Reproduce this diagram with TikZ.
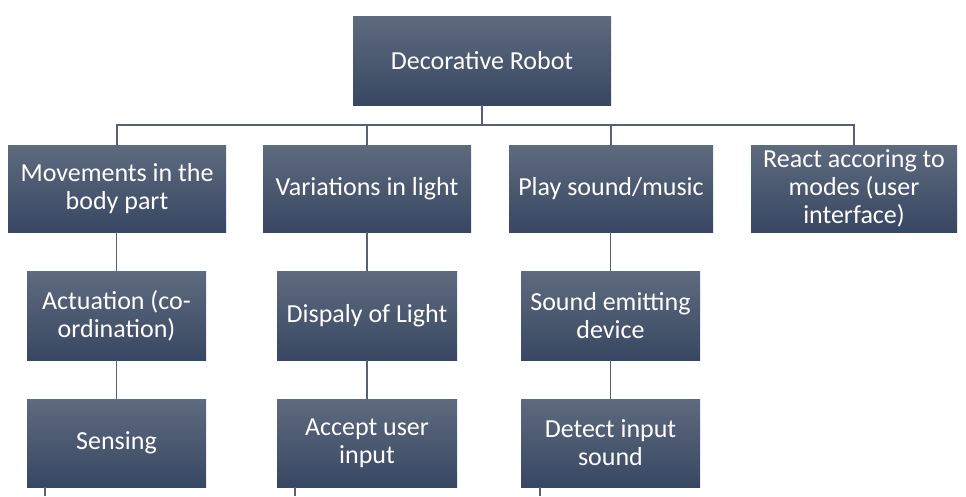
\documentclass[tikz,border=0pt]{standalone}
\usepackage{fontspec}
\setmainfont{Carlito}
\usetikzlibrary{calc}
\definecolor{boxtop}{RGB}{94,106,126}
\definecolor{boxbot}{RGB}{56,71,98}
\definecolor{linkcol}{RGB}{88,96,114}

\begin{document}
\begin{tikzpicture}[x=1pt, y=-1pt,
    box/.style={rectangle, inner sep=0pt, align=center, text=white, top color=boxtop, bottom color=boxbot,
      font=\fontsize{26}{28}\selectfont},
    link/.style={draw=linkcol, line width=1.2pt}]
      \useasboundingbox (0,0) rectangle (966,496);

      % top
      \node[box, minimum width=258pt, minimum height=89pt] (robot) at (482,60.5) {Decorative Robot};

      % first row
      \node[box, minimum width=218pt, minimum height=87pt] (move) at (117,188.5) {Movements in the\\body part};
      \node[box, minimum width=208pt, minimum height=87pt] (light) at (367,188.5) {Variations in light};
      \node[box, minimum width=204pt, minimum height=87pt] (sound) at (611,188.5) {Play sound/music};
      \node[box, minimum width=206pt, minimum height=87pt] (react) at (854,188.5) {React accoring to\\modes (user\\interface)};

      % second row
      \node[box, minimum width=179pt, minimum height=89pt] (actuate) at (116.5,315.5) {Actuation (co-\\ordination)};
      \node[box, minimum width=180pt, minimum height=89pt] (display) at (367,315.5) {Dispaly of Light};
      \node[box, minimum width=179pt, minimum height=89pt] (emit) at (610.5,315.5) {Sound emitting\\device};

      % third row
      \node[box, minimum width=179pt, minimum height=88pt] (sense) at (116.5,443) {Sensing};
      \node[box, minimum width=180pt, minimum height=88pt] (accept) at (367,443) {Accept user\\input};
      \node[box, minimum width=179pt, minimum height=88pt] (detect) at (610.5,443) {Detect input\\sound};

      \coordinate (bus) at (482,125);
      \coordinate (stubA) at (45,496);
      \coordinate (stubB) at (295,496);
      \coordinate (stubC) at (540,496);

      \draw[link] (robot.south) -- (robot.south |- bus);
      \draw[link] (move.north) |- (react.north |- bus) -- (react.north);
      \draw[link] (light.north) -- (light.north |- bus);
      \draw[link] (sound.north) -- (sound.north |- bus);

      \draw[link] (move.south) -- (move.south -| actuate.north) -- (actuate.north);
      \draw[link] (light.south) -- (display.north);
      \draw[link] (sound.south -| emit.north) -- (emit.north);

      \draw[link] (actuate.south) -- (sense.north);
      \draw[link] (display.south) -- (accept.north);
      \draw[link] (emit.south) -- (detect.north);

      \draw[link] (sense.south -| stubA) -- (stubA);
      \draw[link] (accept.south -| stubB) -- (stubB);
      \draw[link] (detect.south -| stubC) -- (stubC);
    \end{tikzpicture}
\end{document}
